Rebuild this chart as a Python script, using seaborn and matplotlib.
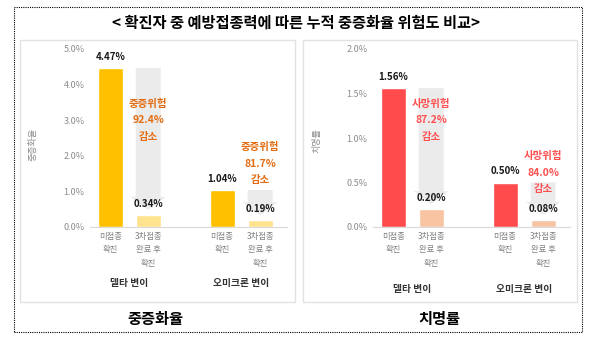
import numpy as np
import pandas as pd
import matplotlib
matplotlib.use('Agg')
import matplotlib.pyplot as plt
import seaborn as sns
from matplotlib.patches import Rectangle, FancyArrow
from matplotlib.ticker import FuncFormatter

# ---- data ----
variants = ['델타 변이', '오미크론 변이']
statuses = ['미접종\n확진', '3차접종\n완료 후\n확진']
severe_unvax = [4.47, 1.04]
severe_boost = [0.34, 0.19]
fatal_unvax = [1.56, 0.50]
fatal_boost = [0.20, 0.08]
severe_ticks = [0, 1, 2, 3, 4, 5]
fatal_ticks = [0, 0.5, 1.0, 1.5, 2.0]
title = '< 확진자 중 예방접종력에 따른 누적 중증화율 위험도 비교>'
panel_titles = ['중증화율', '치명률']
axis_labels = ['중증화율', '치명률']
risk_words = ['중증위험', '사망위험']

sns.set_theme(style='white')
plt.rcParams['font.family'] = ['Noto Sans CJK KR', 'DejaVu Sans']
plt.rcParams['axes.unicode_minus'] = False

W, H = 593, 339
fig = plt.figure(figsize=(W / 100, H / 100), dpi=100)
fig.patch.set_facecolor('white')


def fx(x):
    return x / W


def fy(y):
    return 1 - y / H


# axes placement (pixels)
AX_TOP, AX_BOT = 49, 227
AX_W = 197


def panel(left_px, unvax, boost, ticks, colors, risk_word, note_color,
          note_y, group_pad):
    ax = fig.add_axes([fx(left_px), fy(AX_BOT), AX_W / W, (AX_BOT - AX_TOP) / H])
    ax.set_facecolor('none')
    ax.set_zorder(2)
    df = pd.DataFrame({
        'variant': variants * 2,
        'status': [statuses[0]] * len(variants) + [statuses[1]] * len(variants),
        'rate': list(unvax) + list(boost),
    })
    sns.barplot(data=df, x='variant', y='rate', hue='status', order=variants,
                hue_order=statuses, palette=colors, width=0.68, gap=0.344,
                saturation=1, errorbar=None, legend=False, ax=ax, zorder=2)
    ymax = ticks[-1]
    ax.set_ylim(0, ymax)
    ax.set_xlim(-0.35, 1.41)
    ppu = (AX_BOT - AX_TOP) / ymax  # pixels per data unit
    xpu = AX_W / 1.76

    centers = []
    for i in range(len(variants)):
        b1 = ax.containers[0][i]
        b2 = ax.containers[1][i]
        x1 = b1.get_x() + b1.get_width() / 2
        x2 = b2.get_x() + b2.get_width() / 2
        centers += [x1, x2]
        v1, v2 = unvax[i], boost[i]
        tip = v2 + 5 / ppu
        arr = FancyArrow(x2, v1, 0, -(v1 - tip), width=b2.get_width(),
                         head_width=b2.get_width() + 10 / xpu,
                         head_length=13 / ppu, length_includes_head=True,
                         color='#EBEBEB', lw=0, zorder=1)
        ax.add_patch(arr)
        for x, v in ((x1, v1), (x2, v2)):
            ax.annotate(f'{v:.2f}%', (x, v), xytext=(0, 8),
                        textcoords='offset points', ha='center', va='center',
                        fontsize=7, fontweight='bold', color='#1a1a1a',
                        zorder=5)
        pct = (1 - v2 / v1) * 100
        ax.text(x2, note_y[i], f'{risk_word}\n{pct:.1f}%\n감소', ha='center',
                va='center', fontsize=7.5, fontweight='bold', color=note_color,
                linespacing=1.8, zorder=5)

    ax.set_xlabel('')
    ax.set_ylabel('')
    ax.set_xticks(range(len(variants)))
    ax.set_xticklabels(variants, fontweight='bold')
    ax.set_xticks(sorted(centers), [statuses[0], statuses[1]] * len(variants),
                  minor=True)
    ax.tick_params(axis='x', which='major', length=0, pad=group_pad,
                   labelsize=7, labelcolor='#333333')
    ax.tick_params(axis='x', which='minor', length=0, pad=3.5, labelsize=6,
                   labelcolor='#808080')
    for lbl in ax.get_xticklabels(minor=True):
        lbl.set_linespacing(1.62)
    ax.set_yticks(ticks)
    ax.yaxis.set_major_formatter(FuncFormatter(lambda v, p: f'{v:.1f}%'))
    ax.tick_params(axis='y', length=0, pad=4, labelsize=6.5,
                   labelcolor='#8c8c8c')
    sns.despine(ax=ax, left=True)
    ax.spines['bottom'].set_color('#D9D9D9')
    ax.spines['bottom'].set_linewidth(0.8)
    ax.grid(False)
    return ax


# panel frames
for x0, x1 in ((20, 295), (303, 577)):
    fig.patches.append(Rectangle((fx(x0), fy(302)), (x1 - x0) / W, (302 - 40) / H,
                                 transform=fig.transFigure, fill=True,
                                 facecolor='white', edgecolor='#E2E2E2',
                                 lw=1, zorder=-2))
# outer dotted frame
fig.patches.append(Rectangle((fx(14), fy(332)), (582 - 14) / W, (332 - 7) / H,
                             transform=fig.transFigure, fill=False,
                             edgecolor='black', lw=0.8, linestyle=(0, (1, 1)),
                             zorder=-1))

panel(90, severe_unvax, severe_boost, severe_ticks, ['#FFC000', '#FFE38F'],
      risk_words[0], '#E36C12', [3.0, 1.78], 37)
panel(373, fatal_unvax, fatal_boost, fatal_ticks, ['#FF4B4B', '#F8C4A2'],
      risk_words[1], '#FF5050', [1.20, 0.61], 41)

fig.text(fx(33), fy(145), axis_labels[0], rotation=90, ha='center', va='center',
         fontsize=6.5, color='#8c8c8c')
fig.text(fx(317), fy(141), axis_labels[1], rotation=90, ha='center', va='center',
         fontsize=6.5, color='#8c8c8c')

fig.text(fx(296), fy(23), title, ha='center', va='center', fontsize=11,
         fontweight='bold', color='black')
fig.text(fx(155), fy(319), panel_titles[0], ha='center', va='center',
         fontsize=11, fontweight='bold', color='black')
fig.text(fx(439), fy(319), panel_titles[1], ha='center', va='center',
         fontsize=11, fontweight='bold', color='black')

fig.savefig('out.png', dpi=100)
